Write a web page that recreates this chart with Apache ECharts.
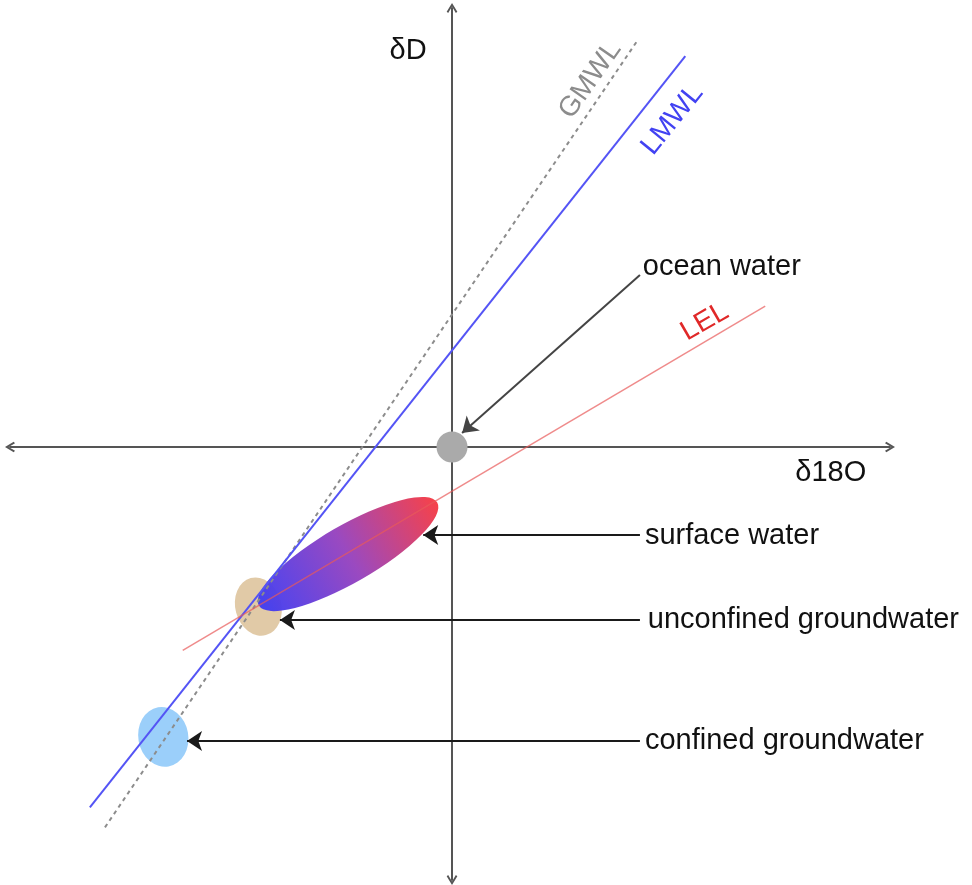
<!DOCTYPE html>
<html>
<head>
<meta charset="utf-8">
<title>δD – δ18O water types</title>
<script src="https://cdn.jsdelivr.net/npm/echarts@6/dist/echarts.min.js"></script>
<style>
  html, body { margin: 0; padding: 0; background: #ffffff; }
  #chart { width: 972px; height: 885px; }
</style>
</head>
<body>
<div id="chart"></div>
<script>
// Axis extents: δ18O (x) and δD (y), per mil
const xRange = [-6.139, 6.083];
const yRange = [-32.56, 33.01];

// Water lines, as [δ18O, δD] endpoints
const gmwl = [[-4.82, -28.6], [2.58, 30.6]];
const lmwl = [[-5.03, -27.1], [3.24, 29.4]];
const lel  = [[-3.74, -15.3], [4.35, 10.6]];

// Water types and where they sit
const waterNames   = ['ocean water', 'surface water', 'unconfined groundwater', 'confined groundwater'];
const waterCenters = [[0, 0], [-1.444, -8.05], [-2.69, -12.0], [-4.01, -21.8]];
const arrowTails   = [[2.61, 12.93], [2.61, -6.62], [2.61, -13.0], [2.61, -22.1]];
const arrowHeads   = [[0.14, 1.05], [-0.40, -6.62], [-2.39, -13.0], [-3.68, -22.1]];
const labelAnchors = [[2.65, 13.5], [2.68, -6.7], [2.72, -13.0], [2.68, -22.1]];

// Names written along the lines
const lineNames       = ['GMWL', 'LMWL', 'LEL'];
const lineNameAnchors = [[1.92, 27.6], [3.06, 24.6], [3.51, 9.4]];

// Axis titles
const axisTitles       = ['δD', 'δ18O'];
const axisTitleAnchors = [[-0.61, 29.8], [5.26, -1.95]];

const FONT = "'Liberation Sans', Arial, Helvetica, sans-serif";
const TEXT = '#111111';
const chevron = 'path://M5 0L10 8.2L8.6 9.4L5 3.4L1.4 9.4L0 8.2Z';

// Look of each water body
const waterLook = [
  { size: [31, 31], rotate: 0, color: '#aaaaaa' },
  { size: [206, 57], rotate: 30,
    color: new echarts.graphic.LinearGradient(0, 0, 1, 0, [
      { offset: 0, color: 'rgba(62,60,242,0.96)' },
      { offset: 0.5, color: 'rgba(150,66,190,0.96)' },
      { offset: 1, color: 'rgba(246,58,66,0.96)' }
    ]) },
  { size: [46, 59], rotate: 15, color: 'rgba(222,198,160,0.92)' },
  { size: [50, 60], rotate: 10, color: 'rgba(150,204,250,0.95)' }
];
// Order of drawing: confined, unconfined, surface, ocean
const drawOrder = [3, 2, 1, 0];

const lineColors = ['#8c8c8c', '#4242f2', '#e02828'];
const lineRot = [55, 51, 30];

const chart = echarts.init(document.getElementById('chart'), null, { renderer: 'canvas' });

const hiddenDot = { symbol: 'circle', symbolSize: 0, itemStyle: { color: '#ffffff', opacity: 1 } };

const option = {
  backgroundColor: '#ffffff',
  animation: false,
  grid: { left: 10, right: 82, top: 8, bottom: 5 },
  xAxis: {
    type: 'value', min: xRange[0], max: xRange[1],
    axisLine: { onZero: true, symbol: [chevron, chevron], symbolSize: [14, 10],
      lineStyle: { color: '#555555', width: 2 } },
    axisTick: { show: false }, axisLabel: { show: false }, splitLine: { show: false }
  },
  yAxis: {
    type: 'value', min: yRange[0], max: yRange[1],
    axisLine: { onZero: true, symbol: [chevron, chevron], symbolSize: [14, 10],
      lineStyle: { color: '#555555', width: 2 } },
    axisTick: { show: false }, axisLabel: { show: false }, splitLine: { show: false }
  },
  series: [
    {
      name: 'water bodies', type: 'scatter', z: 2, silent: true,
      data: drawOrder.map(i => ({
        name: waterNames[i],
        value: waterCenters[i],
        symbol: 'circle',
        symbolSize: waterLook[i].size,
        symbolRotate: waterLook[i].rotate,
        itemStyle: { color: waterLook[i].color, opacity: 1 }
      }))
    },
    {
      name: 'GMWL', type: 'line', z: 3, silent: true, showSymbol: false, symbol: 'none',
      data: gmwl,
      lineStyle: { color: '#8c8c8c', width: 2, type: [4, 4] }
    },
    {
      name: 'LMWL', type: 'line', z: 3, silent: true, showSymbol: false, symbol: 'none',
      data: lmwl,
      lineStyle: { color: '#5454f5', width: 2 }
    },
    {
      name: 'LEL', type: 'line', z: 3, silent: true, showSymbol: false, symbol: 'none',
      data: lel,
      lineStyle: { color: 'rgba(232,90,90,0.7)', width: 1.5 }
    },
    {
      name: 'pointers', type: 'lines', coordinateSystem: 'cartesian2d', z: 4, silent: true,
      symbol: ['none', 'arrow'], symbolSize: 15,
      lineStyle: { color: '#1a1a1a', width: 2, opacity: 1 },
      data: waterNames.map((n, i) => ({
        name: n,
        coords: [arrowTails[i], arrowHeads[i]],
        lineStyle: i === 0 ? { color: '#444444' } : undefined
      }))
    },
    Object.assign({
      name: 'water labels', type: 'scatter', z: 5, silent: true,
      label: { show: true, position: 'right', distance: 0, formatter: '{b}',
        fontFamily: FONT, fontSize: 29, color: TEXT, opacity: 1 },
      data: waterNames.map((n, i) => ({ name: n, value: labelAnchors[i] }))
    }, hiddenDot),
    Object.assign({
      name: 'line labels', type: 'scatter', z: 5, silent: true,
      data: lineNames.map((n, i) => ({
        name: n, value: lineNameAnchors[i],
        label: { show: true, position: 'inside', formatter: '{b}', rotate: lineRot[i],
          fontFamily: FONT, fontSize: 28, color: lineColors[i], opacity: 1 }
      }))
    }, hiddenDot),
    Object.assign({
      name: 'axis titles', type: 'scatter', z: 5, silent: true,
      label: { show: true, position: 'inside', formatter: '{b}',
        fontFamily: FONT, fontSize: 29, color: TEXT, opacity: 1 },
      data: axisTitles.map((n, i) => ({ name: n, value: axisTitleAnchors[i] }))
    }, hiddenDot)
  ]
};

chart.setOption(option);
</script>
</body>
</html>
